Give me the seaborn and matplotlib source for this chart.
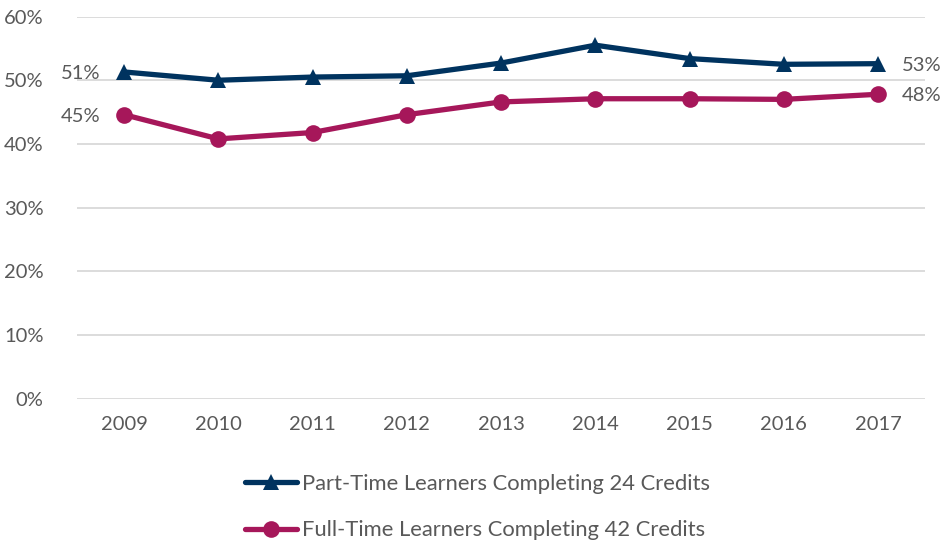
import matplotlib
matplotlib.use("Agg")
import matplotlib.pyplot as plt
import seaborn as sns
import pandas as pd

# Data
years = ["2009", "2010", "2011", "2012", "2013", "2014", "2015", "2016", "2017"]
part_time = [51.3, 50.0, 50.5, 50.7, 52.7, 55.5, 53.4, 52.5, 52.6]
full_time = [44.6, 40.8, 41.8, 44.6, 46.6, 47.1, 47.1, 47.0, 47.8]
series_names = ["Part-Time Learners Completing 24 Credits",
                "Full-Time Learners Completing 42 Credits"]

navy = "#00335F"
berry = "#A6175A"
grey = "#595959"

sns.set_theme(style="white")
plt.rcParams["font.family"] = ["Lato", "DejaVu Sans"]

df = pd.DataFrame({
    "year": years * 2,
    "value": part_time + full_time,
    "series": [series_names[0]] * len(years) + [series_names[1]] * len(years),
})

fig = plt.figure(figsize=(9.45, 5.41), dpi=100)
ax = fig.add_axes([0.0815, 0.2625, 0.8975, 0.7070])

sns.lineplot(data=df, x="year", y="value", hue="series", style="series",
             palette=[navy, berry], markers=["^", "o"], dashes=False,
             markersize=12, linewidth=3.8, markeredgewidth=0, ax=ax, legend=True)

ax.set_xlim(-0.5, len(years) - 0.5)
ax.set_ylim(0, 60)
ax.set_yticks(range(0, 61, 10))
ax.set_yticklabels([f"{v}%" for v in range(0, 61, 10)])
ax.yaxis.grid(True, color="#d9d9d9", linewidth=1.3)
ax.xaxis.grid(False)
for s in ax.spines.values():
    s.set_visible(False)
ax.tick_params(axis="both", colors=grey, labelsize=14.5, length=0)
ax.tick_params(axis="y", pad=24)
ax.tick_params(axis="x", pad=12)
ax.set_xlabel("")
ax.set_ylabel("")

# end labels
for vals in (part_time, full_time):
    ax.annotate(f"{round(vals[0])}%", (0, vals[0]), xytext=(-17, -1),
                textcoords="offset points", ha="right", va="center", color=grey, fontsize=14.5)
    ax.annotate(f"{round(vals[-1])}%", (len(years) - 1, vals[-1]), xytext=(17, -1),
                textcoords="offset points", ha="left", va="center", color=grey, fontsize=14.5)

handles, labels = ax.get_legend_handles_labels()
ax.get_legend().remove()
leg = fig.legend(handles, labels, loc="upper center", bbox_to_anchor=(0.505, 0.14),
                 ncol=1, frameon=False, fontsize=15.8, handlelength=2.4,
                 handletextpad=0.2, labelspacing=1.2, borderaxespad=0)
for t in leg.get_texts():
    t.set_color(grey)

fig.savefig("out.png", dpi=100)
